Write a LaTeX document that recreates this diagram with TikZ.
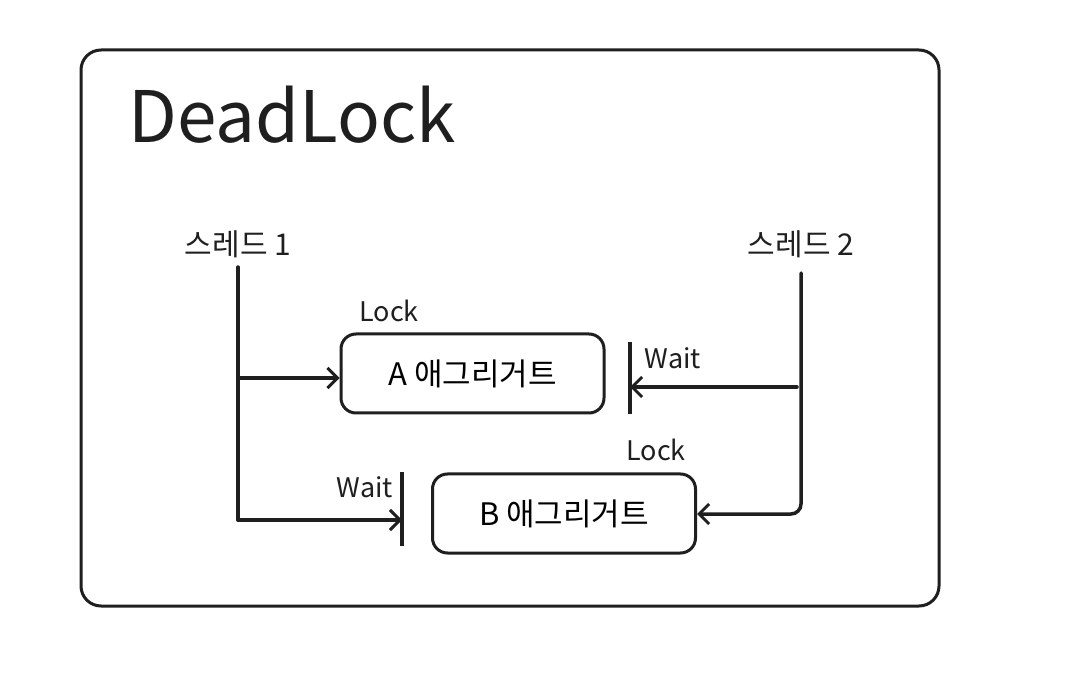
\documentclass[tikz,border=0pt]{standalone}
\usepackage{fontspec}
\setmainfont{Noto Sans CJK KR}
\usetikzlibrary{arrows.meta}
\tikzset{
  frame/.style={draw=black!88, line width=3pt, rounded corners=20pt},
  aggbox/.style={draw=black!88, line width=3pt, rounded corners=15pt, minimum width=263pt, minimum height=79pt, font=\fontsize{31}{36}\selectfont},
  thread/.style={draw=black!88, line width=3.5pt, line cap=round},
  bar/.style={draw=black!88, line width=4.5pt},
  arr/.style={thread, -{Straight Barb[length=10pt,width=20pt,line width=3pt]}},
  lbl/.style={font=\fontsize{30}{34}\selectfont, text=black!88},
  small/.style={font=\fontsize{27}{30}\selectfont, text=black!88},
}
\begin{document}
\begin{tikzpicture}[x=1pt,y=-1pt]
\useasboundingbox (0,0) rectangle (1072,676);
\fill[white] (0,0) rectangle (1072,676);
\draw[frame] (81,50) rectangle (939,606);
\node[font=\fontsize{71}{80}\selectfont, text=black!88] (title) at (292,115) {DeadLock};

\node[lbl] (t1) at (238,244) {스레드 1};
\node[lbl] (t2) at (801,244) {스레드 2};

\node[aggbox] (A) at (472.5,373.5) {\itshape A 애그리거트};
\node[aggbox] (B) at (564,513.5) {B 애그리거트};

\node[small] (lockA) at (389,311) {Lock};
\node[small] (lockB) at (656,450) {Lock};
\node[small] (waitA) at (673,358) {Wait};
\node[small] (waitB) at (365,487) {Wait};

\coordinate (barAt) at (630,342);
\coordinate (barAb) at (630,414);
\coordinate (barBt) at (402,472);
\coordinate (barBb) at (402,546);
\draw[bar] (barAt) -- (barAb);
\draw[bar] (barBt) -- (barBb);

% thread 1
\coordinate (t1top) at (238,267);
\coordinate (t1bot) at (238,520);
\coordinate (t1mid) at (238,378);
\draw[thread] (t1top) -- (t1bot);
\draw[arr, rounded corners=4pt] (t1mid) -- (A.west |- t1mid);
\draw[arr] (t1bot) -- (barBt |- t1bot);

% thread 2
\coordinate (t2top) at (801,273);
\coordinate (t2mid) at (797,387);
\coordinate (t2corner) at (801,514);
\draw[arr] (t2mid) -- (barAt |- t2mid);
\draw[arr, rounded corners=10pt] (t2top) -- (t2corner) -- (B.east |- t2corner);
\end{tikzpicture}
\end{document}
